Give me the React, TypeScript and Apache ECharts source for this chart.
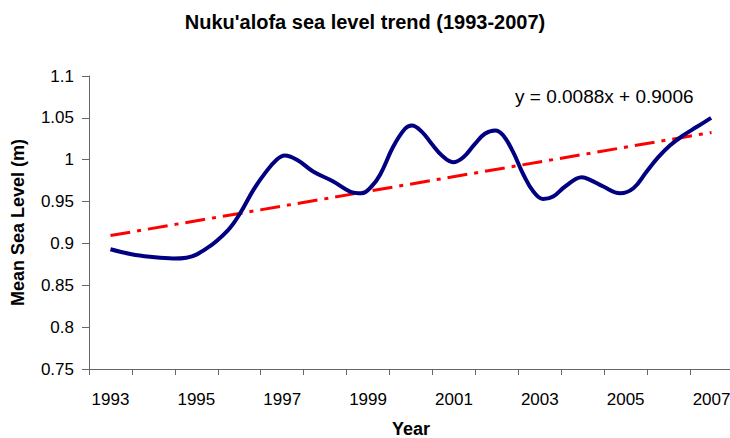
import React, { useEffect, useRef } from "react";
import * as echarts from "echarts";

const categories = ["1993","1994","1995","1996","1997","1998","1999","2000","2001","2002","2003","2004","2005","2006","2007"];

// sea level curve (decimal year, metres)
const levelYears = [
  1993.0, 1993.49, 1993.92, 1994.46, 1994.77, 1995.24, 1995.74, 1996.02, 1996.33, 1996.6,
  1996.87, 1997.06, 1997.37, 1997.72, 1998.19, 1998.58, 1998.85, 1999.08, 1999.28, 1999.59,
  1999.86, 2000.02, 2000.26, 2000.48, 2000.72, 2000.98, 2001.22, 2001.49, 2001.72, 2001.96,
  2002.15, 2002.38, 2002.62, 2002.85, 2003.08, 2003.31, 2003.59, 2003.98, 2004.17, 2004.48,
  2004.87, 2005.18, 2005.49, 2005.76, 2006.03, 2006.34, 2006.65, 2006.99
];
const levelValues = [
  0.893, 0.887, 0.884, 0.882, 0.883, 0.894, 0.916, 0.936, 0.964, 0.984,
  1.000, 1.005, 0.999, 0.986, 0.974, 0.962, 0.960, 0.968, 0.982, 1.016,
  1.037, 1.041, 1.033, 1.019, 1.005, 0.997, 1.003, 1.019, 1.031, 1.035,
  1.029, 1.009, 0.982, 0.962, 0.953, 0.956, 0.968, 0.979, 0.976, 0.968,
  0.960, 0.966, 0.986, 1.003, 1.017, 1.029, 1.039, 1.050
];

// linear trend end points
const trendYears = [1993, 2007];
const trendValues = [0.9094, 1.0326];
const trendLabel = "y = 0.0088x + 0.9006";

const yTicks = { min: 0.75, max: 1.1, interval: 0.05 };

const FONT = "'Liberation Sans', Arial, sans-serif";

export default function App() {
  const ref = useRef<HTMLDivElement>(null);
  useEffect(() => {
    if (!ref.current) return;
    const chart = echarts.init(ref.current, null, { renderer: "svg" });
    const axisColor = "#666666";
    chart.setOption({
      animation: false,
      backgroundColor: "#ffffff",
      textStyle: { fontFamily: FONT },
      title: {
        text: "Nuku'alofa sea level trend (1993-2007)",
        left: "center",
        top: 7,
        textStyle: { fontFamily: FONT, fontSize: 20, fontWeight: "bold", color: "#000" },
      },
      grid: { left: 89, top: 76, width: 644, bottom: 69, outerBoundsMode: "none", containLabel: false },
      xAxis: [
        {
          type: "category",
          data: categories,
          boundaryGap: true,
          name: "Year",
          nameLocation: "middle",
          nameGap: 51,
          nameTextStyle: { fontFamily: FONT, fontSize: 18, fontWeight: "bold", color: "#000" },
          axisLine: { lineStyle: { color: axisColor, width: 1 } },
          axisTick: { show: true, interval: 0, length: 6, lineStyle: { color: axisColor } },
          axisLabel: { interval: 1, margin: 22, fontFamily: FONT, fontSize: 17, color: "#000" },
          splitLine: { show: false },
        },
        {
          type: "value",
          min: 1992.5,
          max: 2007.5,
          show: false,
          position: "bottom",
        },
      ],
      yAxis: {
        type: "value",
        min: yTicks.min,
        max: yTicks.max,
        interval: yTicks.interval,
        name: "Mean Sea Level (m)",
        nameLocation: "middle",
        nameGap: 62,
        nameTextStyle: { fontFamily: FONT, fontSize: 18, fontWeight: "bold", color: "#000" },
        axisLine: { show: true, lineStyle: { color: axisColor, width: 1 } },
        axisTick: { show: true, length: 7, lineStyle: { color: axisColor } },
        axisLabel: {
          margin: 15,
          fontFamily: FONT,
          fontSize: 17,
          color: "#000",
          formatter: (v: number) => String(Number(v.toFixed(2))),
        },
        splitLine: { show: false },
      },
      series: [
        {
          type: "line",
          xAxisIndex: 1,
          data: levelYears.map((y, i) => [y, levelValues[i]]),
          smooth: 0.4,
          showSymbol: false,
          symbol: "none",
          lineStyle: { color: "#000080", width: 4 },
          z: 3,
        },
        {
          type: "line",
          xAxisIndex: 1,
          data: trendYears.map((y, i) => [y, trendValues[i]]),
          showSymbol: false,
          symbol: "none",
          lineStyle: { color: "#ff0000", width: 3, type: [20, 7, 4, 7], cap: "butt" },
          z: 2,
        },
      ],
      graphic: [
        {
          type: "text",
          left: 515,
          top: 87,
          style: { text: trendLabel, font: `19px ${FONT}`, fill: "#000" },
        },
      ],
    });
    return () => chart.dispose();
  }, []);
  return (
    <div
      ref={ref}
      style={{ position: "absolute", left: 0, top: 0, width: 730, height: 438 }}
    />
  );
}
